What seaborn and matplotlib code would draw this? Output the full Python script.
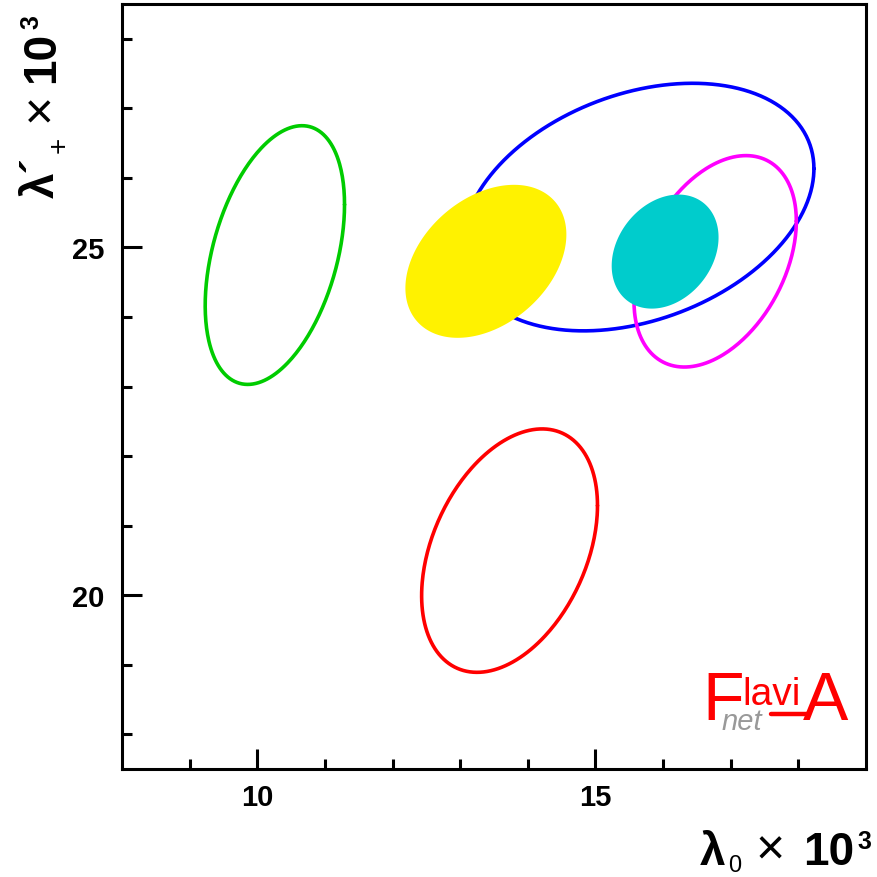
import numpy as np
import matplotlib
matplotlib.use("Agg")
import matplotlib.pyplot as plt
import seaborn as sns

# Fit results: central values, one-sigma widths and correlation
sources = ["green", "red", "blue", "magenta", "yellow", "cyan"]
center_x = [10.26, 13.73, 15.63, 16.77, 13.38, 16.03]
center_y = [24.89, 20.64, 25.58, 24.80, 24.80, 24.94]
sigma_x = [1.03, 1.30, 2.60, 1.20, 1.19, 0.79]
sigma_y = [1.86, 1.75, 1.78, 1.52, 1.10, 0.82]
rho = [0.39, 0.37, 0.31, 0.38, 0.35, 0.25]
filled = [False, False, False, False, True, True]
colors = ["#00cc00", "#ff0000", "#0000ff", "#ff00ff", "#fff200", "#00cccc"]

x_major = [10, 15]
y_major = [20, 25]

W = 878.0  # figure size in pixels


def ellipse_points(cx, cy, sx, sy, r, n=300):
    """Covariance ellipse x = cx + sx cos t, y = cy + sy cos(t - phi)."""
    t = np.linspace(0, 2 * np.pi, n)
    phi = np.arccos(r)
    return cx + sx * np.cos(t), cy + sy * np.cos(t - phi)


def ptext(px, py, s, **kw):
    """Place a text by pixel position from the top-left corner."""
    return fig.text(px / W, 1 - py / W, s, **kw)


sns.set_theme(style="white")
plt.rcParams["font.family"] = ["Liberation Sans", "DejaVu Sans"]

fig = plt.figure(figsize=(8.78, 8.78), dpi=100)
ax = fig.add_axes([122 / W, 108 / W, 744 / W, 765 / W])

# outlines first, filled ellipses on top
for i in range(len(sources)):
    ex, ey = ellipse_points(center_x[i], center_y[i], sigma_x[i], sigma_y[i], rho[i])
    if filled[i]:
        ax.fill(ex, ey, color=colors[i], lw=0, zorder=3)
    else:
        sns.lineplot(x=ex, y=ey, sort=False, estimator=None, color=colors[i],
                     lw=2.6, ax=ax, zorder=2)

ax.set_xlim(8, 19)
ax.set_ylim(17.5, 28.5)
ax.set_xticks(x_major)
ax.set_yticks(y_major)
ax.set_xticks(np.arange(9, 19), minor=True)
ax.set_yticks(np.arange(18, 29), minor=True)
ax.tick_params(which="both", direction="in", width=2.2, color="black",
               bottom=True, left=True, labelcolor="black")
ax.tick_params(which="major", length=14.5)
ax.tick_params(which="minor", length=7.5)
ax.tick_params(axis="x", which="major", pad=10, labelsize=21)
ax.tick_params(axis="y", which="major", pad=13, labelsize=21)
for lab in ax.get_xticklabels() + ax.get_yticklabels():
    lab.set_fontweight("bold")
for s in ax.spines.values():
    s.set_linewidth(2.2)
    s.set_color("black")
ax.set_xlabel("")
ax.set_ylabel("")

# x axis title: lambda_0 x 10^3, built from pieces
xl = dict(color="black", ha="left", va="baseline")
ptext(700, 865, "λ", fontsize=33, fontweight="bold", **xl)
ptext(728, 872, "0", fontsize=17, **xl)
ptext(756, 865, "×", fontsize=36, **xl)
ptext(803, 865, "10", fontsize=33, fontweight="bold", **xl)
ptext(857, 849, "3", fontsize=18, fontweight="bold", **xl)

# y axis title: lambda'_+ x 10^3, rotated
yl = dict(color="black", ha="left", va="baseline", rotation=90, rotation_mode="anchor")
ptext(54, 198, "λ´", fontsize=33, fontweight="bold", **yl)
ptext(67, 153, "+", fontsize=20, **yl)
ptext(54, 122, "×", fontsize=36, **yl)
ptext(54, 83, "10", fontsize=33, fontweight="bold", **yl)
ptext(38, 29, "3", fontsize=18, fontweight="bold", **yl)

# FlaviA logo
red = "#ff0000"
ptext(702, 720, "F", color=red, fontsize=49, ha="left", va="baseline")
ptext(742, 705, "lavi", color=red, fontsize=28, ha="left", va="baseline")
ptext(722, 730, "net", color="#999999", fontsize=21, style="italic",
      ha="left", va="baseline")
fig.add_artist(plt.Line2D([771 / W, 808 / W], [1 - 715 / W, 1 - 715 / W],
                          color=red, lw=3.2))
ptext(803, 720, "A", color=red, fontsize=49, ha="left", va="baseline")

fig.savefig("out.png", dpi=100)
